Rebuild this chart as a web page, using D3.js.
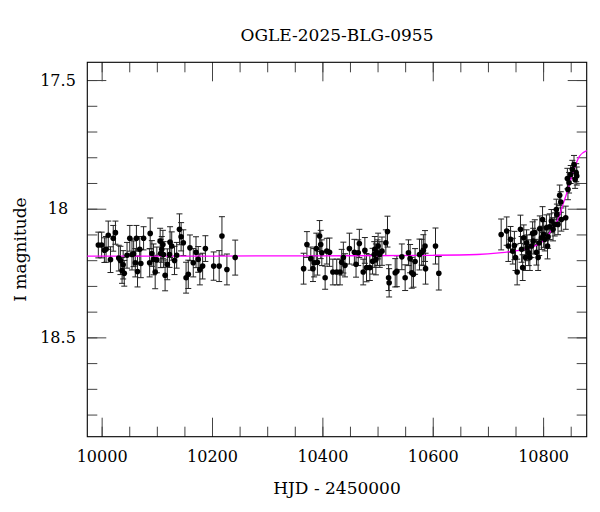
<!DOCTYPE html>
<html>
<head>
<meta charset="utf-8">
<script src="https://cdn.jsdelivr.net/npm/d3@7"></script>
<style>
html,body{margin:0;padding:0;background:#fff;}
svg{display:block;}
text{font-family:"DejaVu Serif",serif;fill:#000;}
</style>
</head>
<body>
<svg id="chart" width="600" height="512"></svg>
<script>
// ---- data ----
const title = "OGLE-2025-BLG-0955";
const xLabel = "HJD - 2450000";
const yLabel = "I magnitude";

// season 1
const hjd1 = [9994,10000,10005,10008,10012,10016,10021,10025,10031,10034,10037,10041,10039,10046,10051,10055,10058,10061,10063,10065,10069,10071,10076,10088,10087,10091,10094,10097,10100,10106,10109,10107,10111,10112,10115,10119,10123,10127,10124,10132,10136,10141,10144,10148,10153,10157,10160,10166,10171,10175,10178,10183,10188,10203,10213,10218,10227,10242];
const mag1 = [18.141,18.141,18.161,18.158,18.103,18.198,18.115,18.093,18.192,18.201,18.240,18.251,18.218,18.181,18.115,18.178,18.175,18.210,18.115,18.244,18.158,18.213,18.115,18.096,18.210,18.174,18.197,18.246,18.199,18.126,18.158,18.174,18.139,18.178,18.259,18.216,18.178,18.145,18.130,18.201,18.181,18.080,18.109,18.132,18.268,18.255,18.152,18.210,18.169,18.197,18.236,18.223,18.155,18.223,18.223,18.106,18.236,18.190];
const err1 = [0.05,0.05,0.048,0.05,0.055,0.05,0.05,0.045,0.05,0.055,0.05,0.05,0.055,0.05,0.05,0.06,0.05,0.055,0.05,0.06,0.05,0.055,0.045,0.06,0.055,0.05,0.06,0.065,0.05,0.05,0.05,0.055,0.055,0.05,0.06,0.06,0.05,0.055,0.06,0.055,0.05,0.06,0.055,0.05,0.06,0.055,0.05,0.055,0.06,0.05,0.06,0.05,0.05,0.055,0.06,0.075,0.06,0.068];

// season 2
const hjd2 = [10366,10372,10379,10383,10385,10389,10391,10395,10397,10399,10405,10408,10413,10419,10426,10432,10435,10438,10441,10449,10458,10461,10465,10467,10474,10477,10480,10486,10491,10494,10495,10497,10500,10501,10504,10508,10515,10518,10520,10521,10532,10535,10544,10550,10556,10559,10562,10565,10568,10576,10580,10583,10586,10587,10605,10611];
const mag2 = [18.233,18.139,18.194,18.233,18.210,18.155,18.208,18.106,18.139,18.171,18.268,18.165,18.169,18.246,18.246,18.246,18.208,18.190,18.220,18.155,18.169,18.216,18.171,18.135,18.246,18.162,18.229,18.229,18.204,18.178,18.158,18.197,18.171,18.145,18.178,18.165,18.132,18.089,18.268,18.288,18.249,18.243,18.187,18.268,18.171,18.194,18.249,18.255,18.205,18.178,18.169,18.161,18.145,18.233,18.145,18.251];
const err2 = [0.06,0.05,0.045,0.05,0.055,0.06,0.05,0.06,0.055,0.05,0.045,0.05,0.055,0.05,0.05,0.05,0.05,0.06,0.045,0.06,0.05,0.05,0.05,0.055,0.05,0.05,0.055,0.05,0.05,0.05,0.05,0.06,0.05,0.05,0.05,0.055,0.05,0.06,0.05,0.055,0.055,0.06,0.05,0.05,0.05,0.055,0.06,0.05,0.05,0.06,0.05,0.06,0.06,0.06,0.07,0.065];

// season 3
const hjd3 = [10724,10734,10737,10741,10745,10748,10750,10753,10759,10761,10763,10765,10768,10770,10771,10774,10776,10779,10781,10782,10785,10788,10791,10793,10794,10797,10799,10801,10803,10806,10808,10809,10812,10815,10818,10821,10824,10825,10827,10830,10832,10833,10841,10844,10845,10847,10850,10853,10856,10858,10861,10860];
const mag3 = [18.100,18.087,18.145,18.119,18.165,18.143,18.190,18.246,18.080,18.158,18.229,18.113,18.190,18.132,18.152,18.171,18.190,18.145,18.096,18.126,18.093,18.169,18.190,18.132,18.078,18.113,18.042,18.100,18.119,18.074,18.145,18.109,18.070,18.048,18.080,18.061,18.003,18.022,18.061,17.948,17.974,18.042,18.035,17.883,17.925,17.899,17.867,17.847,17.828,17.886,17.873,17.860];
const err3 = [0.06,0.055,0.06,0.05,0.05,0.055,0.05,0.05,0.055,0.05,0.05,0.05,0.05,0.05,0.05,0.05,0.05,0.045,0.045,0.05,0.05,0.05,0.05,0.05,0.05,0.045,0.05,0.05,0.045,0.05,0.05,0.045,0.05,0.045,0.045,0.045,0.04,0.04,0.04,0.04,0.04,0.045,0.045,0.04,0.04,0.04,0.035,0.035,0.035,0.035,0.035,0.035];

// model curve
const modelT = [9974,10200,10400,10600,10680,10720,10746,10776,10806,10821,10827,10836,10844,10851,10857,10866,10879];
const modelM = [18.184,18.184,18.183,18.181,18.178,18.172,18.165,18.152,18.113,18.061,18.042,17.983,17.932,17.880,17.841,17.796,17.774];

const xMajor = [10000,10200,10400,10600,10800];
const yMajor = [17.5,18,18.5];

// ---- chart ----
const svg = d3.select("#chart");
const L = 87.3, R = 586.7, T = 62.3, B = 436.7;
const x = d3.scaleLinear().domain([9974,10879]).range([L,R]);
const y = d3.scaleLinear().domain([17.431,18.886]).range([T,B]);

const xMinor = d3.range(10000,10851,50);
const yMinor = d3.range(17.5,18.85,0.1).map(v=>+v.toFixed(1));

function styleAxis(g){
  g.select(".domain").remove();
  g.selectAll(".tick line").attr("stroke","#444").attr("stroke-width",1);
}

// minor ticks
svg.append("g").attr("transform",`translate(0,${B})`).call(d3.axisBottom(x).tickValues(xMinor).tickSize(-10).tickFormat("")).call(styleAxis);
svg.append("g").attr("transform",`translate(0,${T})`).call(d3.axisTop(x).tickValues(xMinor).tickSize(-10).tickFormat("")).call(styleAxis);
svg.append("g").attr("transform",`translate(${L},0)`).call(d3.axisLeft(y).tickValues(yMinor).tickSize(-10).tickFormat("")).call(styleAxis);
svg.append("g").attr("transform",`translate(${R},0)`).call(d3.axisRight(y).tickValues(yMinor).tickSize(-10).tickFormat("")).call(styleAxis);

// major ticks
const gxb = svg.append("g").attr("transform",`translate(0,${B})`)
  .call(d3.axisBottom(x).tickValues(xMajor).tickSize(-19).tickPadding(14).tickFormat(d3.format("d"))).call(styleAxis);
gxb.selectAll("text").attr("font-size",16).attr("font-family","DejaVu Serif").attr("fill","#000");
svg.append("g").attr("transform",`translate(0,${T})`).call(d3.axisTop(x).tickValues(xMajor).tickSize(-19).tickFormat("")).call(styleAxis);
const gyl = svg.append("g").attr("transform",`translate(${L},0)`)
  .call(d3.axisLeft(y).tickValues(yMajor).tickSize(-19).tickFormat(d=>String(d))).call(styleAxis);
gyl.selectAll("text").attr("font-size",16).attr("font-family","DejaVu Serif").attr("fill","#000")
  .attr("text-anchor","middle").attr("x",-(L-58));
svg.append("g").attr("transform",`translate(${R},0)`).call(d3.axisRight(y).tickValues(yMajor).tickSize(-19).tickFormat("")).call(styleAxis);

// frame
svg.append("rect").attr("x",L).attr("y",T).attr("width",R-L).attr("height",B-T)
  .attr("fill","none").attr("stroke","#000").attr("stroke-width",1.1);

// data
const pts = [];
[[hjd1,mag1,err1],[hjd2,mag2,err2],[hjd3,mag3,err3]].forEach(([h,m,e])=>{
  h.forEach((t,i)=>pts.push({t:t,m:m[i],e:e[i]}));
});

const plot = svg.append("g");
const cap = 3;
const eb = plot.append("g").attr("stroke","#222").attr("stroke-width",1).attr("fill","none");
pts.forEach(p=>{
  const cx = x(p.t), y1 = y(p.m-p.e), y2 = y(p.m+p.e);
  eb.append("line").attr("x1",cx).attr("x2",cx).attr("y1",y1).attr("y2",y2);
  eb.append("line").attr("x1",cx-cap).attr("x2",cx+cap).attr("y1",y1).attr("y2",y1);
  eb.append("line").attr("x1",cx-cap).attr("x2",cx+cap).attr("y1",y2).attr("y2",y2);
});

// model
const model = modelT.map((t,i)=>({t:t,m:modelM[i]}));
plot.append("path").datum(model)
  .attr("fill","none").attr("stroke","#ff00ff").attr("stroke-width",1.3)
  .attr("d",d3.line().x(d=>x(d.t)).y(d=>y(d.m)).curve(d3.curveMonotoneX));

plot.append("g").selectAll("circle").data(pts).enter().append("circle")
  .attr("cx",d=>x(d.t)).attr("cy",d=>y(d.m)).attr("r",2.8).attr("fill","#000");

// titles
svg.append("text").attr("x",(L+R)/2).attr("y",41).attr("text-anchor","middle")
  .attr("font-size",17).text(title);
svg.append("text").attr("x",(L+R)/2).attr("y",494).attr("text-anchor","middle")
  .attr("font-size",17).text(xLabel);
svg.append("text").attr("transform",`translate(26,${(T+B)/2}) rotate(-90)`).attr("text-anchor","middle")
  .attr("font-size",17).text(yLabel);
</script>
</body>
</html>
